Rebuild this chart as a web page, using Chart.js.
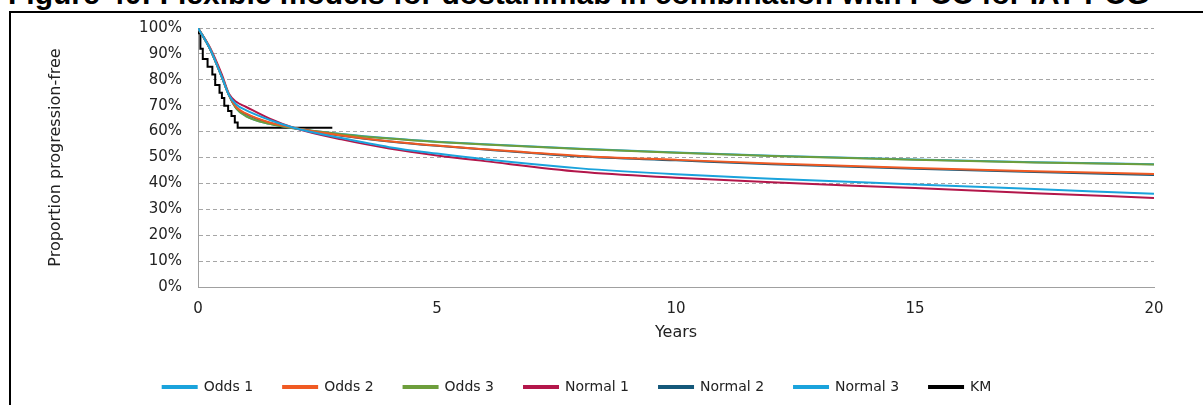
<!DOCTYPE html>
<html>
<head>
<meta charset="utf-8">
<script src="https://cdn.jsdelivr.net/npm/chart.js@4.4.1/dist/chart.umd.min.js"></script>
<style>
  html, body { margin: 0; padding: 0; background: #fff; }
  body { width: 1203px; height: 405px; overflow: hidden; position: relative; }
  #title {
    position: absolute; left: 8px; top: -21px; white-space: nowrap;
    font: bold 30px "Liberation Sans", Arial, sans-serif; line-height: 30px; color: #000;
  }
  #frame {
    position: absolute; left: 9px; top: 11px; width: 1300px; height: 500px;
    border-top: 2px solid #000; border-left: 2px solid #000;
  }
  #wrap { position: absolute; left: 0; top: 0; width: 1203px; height: 405px; }
</style>
</head>
<body>
<div id="title">Figure 40: Flexible models for dostarlimab in combination with PCC for IAT PCG</div>
<div id="frame"></div>
<div id="wrap"><canvas id="chart"></canvas></div>
<script>
// model time grid (years)
const modelYears = [0, 0.25, 0.5, 0.65, 0.8, 1, 1.5, 2, 3, 4, 5, 6, 8, 10, 12, 15, 17.5, 20];

const odds1 = [100, 92, 81, 74, 70.5, 68.3, 64.5, 61.5, 57.5, 54, 51.5, 49.3, 45.8, 43.5, 41.8, 39.6, 37.8, 36];
const odds2 = [100, 92, 81, 74, 69.5, 67, 63.5, 61.5, 58.5, 56.3, 54.6, 53.2, 50.6, 49.1, 47.7, 45.9, 44.7, 43.6];
const odds3 = [100, 92, 81, 74, 69, 66, 63, 61.3, 59, 57.3, 56, 55, 53.3, 51.8, 50.6, 49.1, 48.1, 47.3];
const normal1 = [100, 92.5, 82, 74.5, 71.5, 69.6, 65, 61.5, 57, 53.5, 50.8, 48.6, 44.5, 42.2, 40.4, 38.2, 36.2, 34.4];
const normal2 = [100, 92, 81, 74, 69.3, 66.8, 63.3, 61.4, 58.4, 56.2, 54.5, 53.1, 50.4, 48.9, 47.4, 45.7, 44.4, 43.2];
const normal3 = [100, 92, 81, 74, 69, 66, 63, 61.3, 59.1, 57.4, 56.1, 55.1, 53.4, 51.9, 50.7, 49.2, 48.2, 47.4];

// Kaplan-Meier steps
const kmYears = [0, 0.05, 0.1, 0.2, 0.3, 0.36, 0.45, 0.5, 0.55, 0.63, 0.7, 0.77, 0.83, 0.95, 2.81];
const kmSurv = [100, 98, 92, 88, 85, 82, 78, 75, 73, 70, 68, 66, 63.5, 61.5, 61.5];

const yTicks = [0, 10, 20, 30, 40, 50, 60, 70, 80, 90, 100];
const xTicks = [0, 5, 10, 15, 20];

const seriesColors = {
  "Odds 1": "#1aa3dc",
  "Odds 2": "#f05a23",
  "Odds 3": "#6d9e3c",
  "Normal 1": "#b3164a",
  "Normal 2": "#14587a",
  "Normal 3": "#1aa3dc",
  KM: "#000000",
};

function toPoints(xs, ys) {
  return xs.map((x, i) => ({ x, y: ys[i] }));
}

function modelSeries(label, values) {
  return {
    label,
    data: toPoints(modelYears, values),
    borderColor: seriesColors[label],
    backgroundColor: seriesColors[label],
    borderWidth: 2,
    pointRadius: 0,
    cubicInterpolationMode: "monotone",
  };
}

const datasets = [
  modelSeries("Odds 1", odds1),
  modelSeries("Odds 2", odds2),
  modelSeries("Odds 3", odds3),
  modelSeries("Normal 1", normal1),
  modelSeries("Normal 2", normal2),
  modelSeries("Normal 3", normal3),
  {
    label: "KM",
    data: toPoints(kmYears, kmSurv),
    borderColor: seriesColors.KM,
    backgroundColor: seriesColors.KM,
    borderWidth: 2,
    pointRadius: 0,
    stepped: "after",
  },
];

const family = "'DejaVu Sans', Verdana, sans-serif";
const tickFont = { family, size: 15 };
const titleFont = { family, size: 16 };

new Chart(document.getElementById("chart"), {
  type: "line",
  data: { datasets },
  options: {
    responsive: true,
    maintainAspectRatio: false,
    animation: false,
    layout: { padding: { left: 0, right: 49, top: 28, bottom: 1 } },
    plugins: {
      tooltip: { enabled: false },
      legend: {
        position: "bottom",
        labels: {
          boxWidth: 34,
          boxHeight: 2,
          padding: 30,
          color: "#222",
          font: { family, size: 14 },
        },
      },
    },
    scales: {
      x: {
        type: "linear",
        min: 0,
        max: 20,
        afterBuildTicks: (scale) => { scale.ticks = xTicks.map((v) => ({ value: v })); },
        afterFit: (scale) => { scale.height = 63; },
        grid: { display: false, drawTicks: false },
        border: { color: "#a0a0a0", width: 1 },
        ticks: { color: "#222", font: tickFont, padding: 13 },
        title: { display: true, text: "Years", color: "#222", font: titleFont, padding: { top: 10, bottom: 8 } },
      },
      y: {
        min: 0,
        max: 100,
        afterBuildTicks: (scale) => { scale.ticks = yTicks.map((v) => ({ value: v })); },
        afterFit: (scale) => { scale.width = 198; },
        grid: { color: "#a6a6a6", drawTicks: false, lineWidth: 1 },
        border: { color: "#a0a0a0", width: 1, dash: [4, 3] },
        ticks: { color: "#222", font: tickFont, padding: 16, callback: (v) => `${v}%` },
        title: { display: true, text: "Proportion progression-free", color: "#222", font: titleFont, padding: { top: 46, bottom: 0 } },
      },
    },
  },
});
</script>
</body>
</html>
